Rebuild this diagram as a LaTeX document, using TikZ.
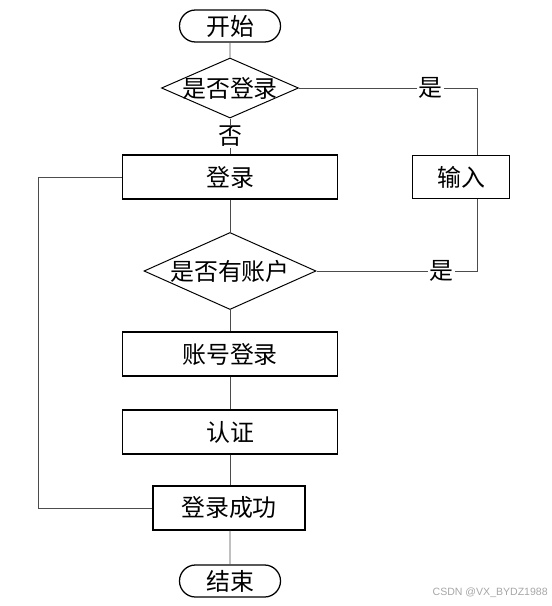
\documentclass[tikz,border=0pt]{standalone}
\usepackage{fontspec}
\newfontfamily\cjk{Noto Sans CJK SC}
\newfontfamily\wmfont{Liberation Sans}
\usetikzlibrary{shapes.geometric, shapes.misc, positioning}
\tikzset{
  stepbox/.style={
    draw, rectangle, minimum width=5.375cm, minimum height=1.1cm,
    inner sep=0pt, line width=0.8pt
  },
  termbox/.style={
    draw, rounded rectangle, minimum width=2.525cm, minimum height=0.8cm,
    inner sep=0pt, line width=0.9pt
  },
  decision/.style={
    draw, diamond, inner sep=0pt, line width=0.7pt
  },
  line/.style={
    draw, line width=0.7pt, black!70
  },
  yesno/.style={
    fill=white, text=black, inner sep=1pt
  },
}

\begin{document}
\begin{tikzpicture}[x=0.025cm, y=-0.025cm, font=\cjk\fontsize{17}{20}\selectfont]

  \useasboundingbox (0,0) rectangle (552,606);

  %%% main column %%%
  \node[termbox] (start) at (230,26) {开始};

  \node[decision, minimum width=3.425cm, minimum height=1.5cm,
        label=center:{是否登录}] (haslogin) at (230,88) {};

  \node[stepbox] (login) at (230,177) {登录};

  \node[decision, minimum width=4.3cm, minimum height=1.925cm,
        label=center:{是否有账户}] (hasacc) at (230,271) {};

  \node[stepbox] (acclogin) at (230,354) {账号登录};

  \node[stepbox] (auth) at (230,432) {认证};

  \node[stepbox, minimum width=3.8cm] (success) at (229,508) {登录成功};

  \node[termbox] (stop) at (230,581) {结束};

  %%% right branch %%%
  \node[stepbox, minimum width=2.425cm, minimum height=1.075cm]
    (input) at (461,177) {输入};

  \coordinate (intop) at ([xshift=0.4cm]input.north);
  \coordinate (inbot) at ([xshift=0.4cm]input.south);

  %%% connectors %%%
  \draw[line] (start) -- (haslogin);
  \draw[line] (haslogin) -- node[yesno] {否} (login);
  \draw[line] (haslogin.east) -| node[yesno, pos=0.37] {是} (intop);
  \draw[line] (login) -- (hasacc);
  \draw[line] (hasacc.east) -| node[yesno, pos=0.39] {是} (inbot);
  \draw[line] (hasacc) -- (acclogin);
  \draw[line] (acclogin) -- (auth);
  \draw[line] (auth) -- (auth |- success.north);
  \draw[line] (auth |- success.south) -- (stop);

  %%% loop back on the left %%%
  \draw[line] (login.west) -- ++(-83,0) |- (success.west);

  %%% watermark %%%
  \node[text=black!35, anchor=east, inner sep=0pt,
        font=\wmfont\fontsize{7.5}{9}\selectfont]
    (mark) at (548,593) {CSDN @VX\_BYDZ1988};

\end{tikzpicture}
\end{document}
